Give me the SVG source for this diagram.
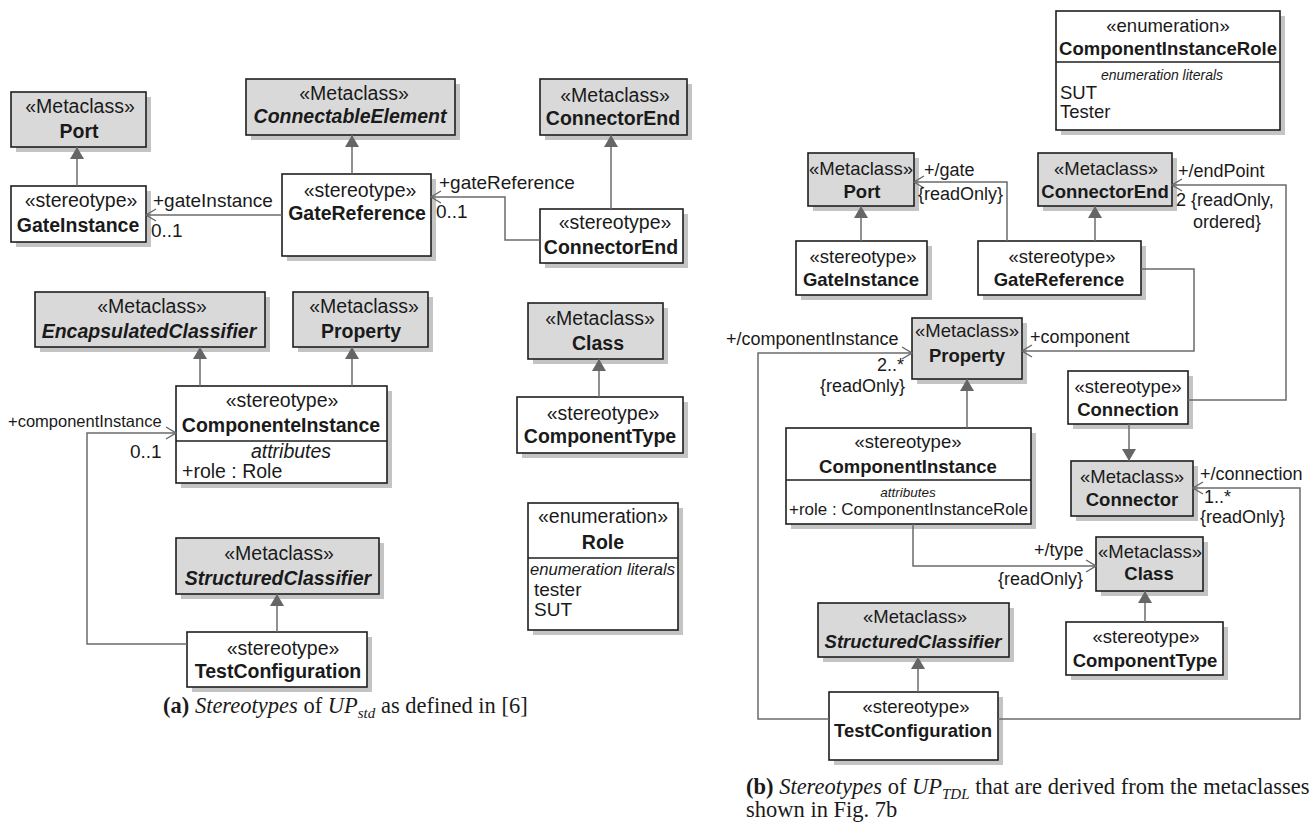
<svg xmlns="http://www.w3.org/2000/svg" width="1316" height="824" viewBox="0 0 1316 824">
<style>
.sh{fill:#c4c4c4}
.m{fill:#d9d9d9;stroke:#1e1e1e;stroke-width:1.6}
.s{fill:#ffffff;stroke:#1e1e1e;stroke-width:1.6}
.sep{stroke:#1e1e1e;stroke-width:1.4}
text{font-family:"Liberation Sans",Arial,sans-serif;fill:#1a1a1a}
.L{font-size:19.5px;text-anchor:middle}
.R{font-size:18.5px;text-anchor:middle}
.b{font-weight:bold}
.i{font-style:italic}
.lab{font-size:19px}
.rl{font-size:18px}
.ln{fill:none;stroke:#6b6b6b;stroke-width:1.5}
.cap{font-family:"Liberation Serif","Times New Roman",serif;font-size:22.5px;fill:#1a1a1a}
</style>
<defs>
<marker id="ext" viewBox="0 0 12 14" refX="12" refY="7" markerWidth="12" markerHeight="14" markerUnits="userSpaceOnUse" orient="auto"><path d="M0,0 L12,7 L0,14 z" fill="#666"/></marker>
<marker id="open" viewBox="-1 -1 12 14" refX="10" refY="6" markerWidth="12" markerHeight="14" markerUnits="userSpaceOnUse" orient="auto" overflow="visible"><path d="M0,0 L10,6 L0,12" fill="none" stroke="#666" stroke-width="1.4"/></marker>
</defs>
<rect width="1316" height="824" fill="#ffffff"/>

<!-- (a) left panel -->
<g id="a-port"><rect class="sh" x="16" y="97" width="135" height="55"/><rect class="m" x="11" y="92" width="135" height="55"/><text class="L" x="80" y="113">«Metaclass»</text><text class="L b" x="79" y="138">Port</text></g>
<g id="a-gateinstance"><rect class="sh" x="16" y="191" width="135" height="56"/><rect class="s" x="11" y="186" width="135" height="56"/><text class="L" x="81" y="207">«stereotype»</text><text class="L b" x="78" y="232">GateInstance</text></g>
<g id="a-connectable"><rect class="sh" x="251" y="84" width="209" height="56"/><rect class="m" x="246" y="79" width="209" height="56"/><text class="L" x="354" y="100">«Metaclass»</text><text class="L b i" x="350" y="123">ConnectableElement</text></g>
<g id="a-gatereference"><rect class="sh" x="287" y="179" width="149" height="82"/><rect class="s" x="282" y="174" width="149" height="82"/><text class="L" x="360" y="197">«stereotype»</text><text class="L b" x="357" y="220">GateReference</text></g>
<g id="a-connectorend-meta"><rect class="sh" x="545" y="84" width="147" height="56"/><rect class="m" x="540" y="79" width="147" height="56"/><text class="L" x="615" y="102">«Metaclass»</text><text class="L b" x="613" y="125">ConnectorEnd</text></g>
<g id="a-connectorend"><rect class="sh" x="545" y="214" width="143" height="54"/><rect class="s" x="540" y="209" width="143" height="54"/><text class="L" x="615" y="229">«stereotype»</text><text class="L b" x="611" y="254">ConnectorEnd</text></g>
<g id="a-encapsulated"><rect class="sh" x="40" y="297" width="230" height="55"/><rect class="m" x="35" y="292" width="230" height="55"/><text class="L" x="152" y="313">«Metaclass»</text><text class="L b i" x="149" y="338">EncapsulatedClassifier</text></g>
<g id="a-property"><rect class="sh" x="298" y="297" width="135" height="55"/><rect class="m" x="293" y="292" width="135" height="55"/><text class="L" x="364" y="313">«Metaclass»</text><text class="L b" x="361" y="338">Property</text></g>
<g id="a-componenteinstance"><rect class="sh" x="181" y="391" width="211" height="97"/><rect class="s" x="176" y="386" width="211" height="97"/><line class="sep" x1="176" y1="441" x2="387" y2="441"/><text class="L" x="282" y="407">«stereotype»</text><text class="L b" x="281" y="432">ComponenteInstance</text><text class="L i" x="291" y="458">attributes</text><text class="lab" x="182" y="478" style="font-size:19.5px">+role : Role</text></g>
<g id="a-structured"><rect class="sh" x="181" y="543" width="203" height="56"/><rect class="m" x="176" y="538" width="203" height="56"/><text class="L" x="279" y="560">«Metaclass»</text><text class="L b i" x="278" y="585">StructuredClassifier</text></g>
<g id="a-testconfiguration"><rect class="sh" x="192" y="637" width="180" height="55"/><rect class="s" x="187" y="632" width="180" height="55"/><text class="L" x="283" y="655">«stereotype»</text><text class="L b" x="278" y="678">TestConfiguration</text></g>
<g id="a-class"><rect class="sh" x="533" y="308" width="135" height="56"/><rect class="m" x="528" y="303" width="135" height="56"/><text class="L" x="600" y="325">«Metaclass»</text><text class="L b" x="598" y="350">Class</text></g>
<g id="a-componenttype"><rect class="sh" x="522" y="402" width="166" height="56"/><rect class="s" x="517" y="397" width="166" height="56"/><text class="L" x="603" y="420">«stereotype»</text><text class="L b" x="600" y="443">ComponentType</text></g>
<g id="a-role"><rect class="sh" x="533" y="508" width="150" height="127"/><rect class="s" x="528" y="503" width="150" height="127"/><line class="sep" x1="528" y1="558" x2="678" y2="558"/><text class="L" x="603" y="523">«enumeration»</text><text class="L b" x="603" y="549">Role</text><text class="i" x="530" y="575" style="font-size:16.5px" textLength="145" lengthAdjust="spacingAndGlyphs">enumeration literals</text><text class="lab" x="534" y="596">tester</text><text class="lab" x="534" y="616">SUT</text></g>

<!-- (b) right panel -->
<g id="b-componentinstancerole"><rect class="sh" x="1061" y="16" width="224" height="119"/><rect class="s" x="1056" y="11" width="224" height="119"/><line class="sep" x1="1056" y1="62" x2="1280" y2="62"/><text class="R" x="1168" y="32">«enumeration»</text><text class="R b" x="1168" y="55">ComponentInstanceRole</text><text class="i" x="1162" y="80" style="font-size:14px;text-anchor:middle">enumeration literals</text><text class="rl" x="1060" y="99" style="font-size:18.5px">SUT</text><text class="rl" x="1060" y="118" style="font-size:18.5px">Tester</text></g>
<g id="b-port"><rect class="sh" x="813" y="158" width="106" height="53"/><rect class="m" x="808" y="153" width="106" height="53"/><text class="R" x="861" y="175">«Metaclass»</text><text class="R b" x="862" y="198">Port</text></g>
<g id="b-connectorend"><rect class="sh" x="1043" y="158" width="134" height="53"/><rect class="m" x="1038" y="153" width="134" height="53"/><text class="R" x="1106" y="175">«Metaclass»</text><text class="R b" x="1105" y="198">ConnectorEnd</text></g>
<g id="b-gateinstance"><rect class="sh" x="801" y="246" width="131" height="54"/><rect class="s" x="796" y="241" width="131" height="54"/><text class="R" x="863" y="263">«stereotype»</text><text class="R b" x="861" y="286">GateInstance</text></g>
<g id="b-gatereference"><rect class="sh" x="983" y="246" width="163" height="54"/><rect class="s" x="978" y="241" width="163" height="54"/><text class="R" x="1062" y="263">«stereotype»</text><text class="R b" x="1059" y="286">GateReference</text></g>
<g id="b-property"><rect class="sh" x="917" y="323" width="110" height="61"/><rect class="m" x="912" y="318" width="110" height="61"/><text class="R" x="967" y="337">«Metaclass»</text><text class="R b" x="967" y="362">Property</text></g>
<g id="b-connection"><rect class="sh" x="1073" y="376" width="120" height="53"/><rect class="s" x="1068" y="371" width="120" height="53"/><text class="R" x="1128" y="393">«stereotype»</text><text class="R b" x="1128" y="416">Connection</text></g>
<g id="b-connector"><rect class="sh" x="1076" y="466" width="122" height="55"/><rect class="m" x="1071" y="461" width="122" height="55"/><text class="R" x="1132" y="483">«Metaclass»</text><text class="R b" x="1132" y="506">Connector</text></g>
<g id="b-componentinstance"><rect class="sh" x="791" y="433" width="245" height="96"/><rect class="s" x="786" y="428" width="245" height="96"/><line class="sep" x1="786" y1="480" x2="1031" y2="480"/><text class="R" x="908" y="448">«stereotype»</text><text class="R b" x="908" y="473">ComponentInstance</text><text class="i" x="908" y="497" style="font-size:13.5px;text-anchor:middle">attributes</text><text x="789" y="515" style="font-size:17px" textLength="239" lengthAdjust="spacingAndGlyphs">+role : ComponentInstanceRole</text></g>
<g id="b-class"><rect class="sh" x="1101" y="542" width="107" height="54"/><rect class="m" x="1096" y="537" width="107" height="54"/><text class="R" x="1150" y="558">«Metaclass»</text><text class="R b" x="1149" y="580">Class</text></g>
<g id="b-structured"><rect class="sh" x="823" y="608" width="191" height="54"/><rect class="m" x="818" y="603" width="191" height="54"/><text class="R" x="915" y="623">«Metaclass»</text><text class="R b i" x="913" y="648">StructuredClassifier</text></g>
<g id="b-componenttype"><rect class="sh" x="1071" y="627" width="157" height="53"/><rect class="s" x="1066" y="622" width="157" height="53"/><text class="R" x="1146" y="643">«stereotype»</text><text class="R b" x="1145" y="667">ComponentType</text></g>
<g id="b-testconfiguration"><rect class="sh" x="834" y="697" width="169" height="68"/><rect class="s" x="829" y="692" width="169" height="68"/><text class="R" x="916" y="713">«stereotype»</text><text class="R b" x="913" y="737">TestConfiguration</text></g>

<!-- connectors -->
<g id="connectors">
<path class="ln" d="M77,186 V147" marker-end="url(#ext)"/>
<path class="ln" d="M352,174 V135" marker-end="url(#ext)"/>
<path class="ln" d="M282,215 H146" marker-end="url(#open)"/>
<path class="ln" d="M611,209 V135" marker-end="url(#ext)"/>
<path class="ln" d="M540,240 H505 V197 H431" marker-end="url(#open)"/>
<path class="ln" d="M200,386 V347" marker-end="url(#ext)"/>
<path class="ln" d="M352,386 V347" marker-end="url(#ext)"/>
<path class="ln" d="M277,632 V594" marker-end="url(#ext)"/>
<path class="ln" d="M599,397 V359" marker-end="url(#ext)"/>
<path class="ln" d="M187,644 H87 V433 H176" marker-end="url(#open)"/>

<path class="ln" d="M861,241 V206" marker-end="url(#ext)"/>
<path class="ln" d="M1095,241 V206" marker-end="url(#ext)"/>
<path class="ln" d="M1007,241 V182 H914" marker-end="url(#open)"/>
<path class="ln" d="M1188,400 H1286 V185 H1172" marker-end="url(#open)"/>
<path class="ln" d="M1141,269 H1194 V351 H1022" marker-end="url(#open)"/>
<path class="ln" d="M829,719 H758 V353 H912" marker-end="url(#open)"/>
<path class="ln" d="M967,428 V379" marker-end="url(#ext)"/>
<path class="ln" d="M1129,424 V461" marker-end="url(#ext)"/>
<path class="ln" d="M998,719 H1300 V488 H1193" marker-end="url(#open)"/>
<path class="ln" d="M913,524 V566 H1096" marker-end="url(#open)"/>
<path class="ln" d="M1145,622 V591" marker-end="url(#ext)"/>
<path class="ln" d="M918,692 V657" marker-end="url(#ext)"/>

<text class="lab" x="153" y="207">+gateInstance</text>
<text class="lab" x="151" y="237">0..1</text>
<text class="lab" x="439" y="189">+gateReference</text>
<text class="lab" x="436" y="218">0..1</text>
<text x="8" y="427" style="font-size:16.5px">+componentInstance</text>
<text class="lab" x="130" y="458">0..1</text>

<text class="rl" x="924" y="176">+/gate</text>
<text class="rl" x="918" y="200">{readOnly}</text>
<text class="rl" x="1178" y="177">+/endPoint</text>
<text class="rl" x="1176" y="206">2 {readOnly,</text>
<text class="rl" x="1193" y="228">ordered}</text>
<text class="rl" x="1030" y="343">+component</text>
<text class="rl" x="726" y="345">+/componentInstance</text>
<text class="rl" x="877" y="371">2..*</text>
<text class="rl" x="820" y="392">{readOnly}</text>
<text class="rl" x="1200" y="480">+/connection</text>
<text class="rl" x="1204" y="503">1..*</text>
<text class="rl" x="1200" y="523">{readOnly}</text>
<text class="rl" x="1034" y="556">+/type</text>
<text class="rl" x="998" y="585">{readOnly}</text>
</g>

<!-- captions -->
<g id="captions">
<text class="cap" x="163" y="713"><tspan font-weight="bold">(a)</tspan> <tspan font-style="italic">Stereotypes</tspan> of <tspan font-style="italic">UP</tspan><tspan font-style="italic" font-size="15px" dy="5">std</tspan><tspan dy="-5"> as defined in [6]</tspan></text>
<text class="cap" x="746" y="794"><tspan font-weight="bold">(b)</tspan> <tspan font-style="italic">Stereotypes</tspan> of <tspan font-style="italic">UP</tspan><tspan font-style="italic" font-size="15px" dy="5">TDL</tspan><tspan dy="-5"> that are derived from the metaclasses</tspan></text>
<text class="cap" x="746" y="817">shown in Fig. 7b</text>
</g>
</svg>
